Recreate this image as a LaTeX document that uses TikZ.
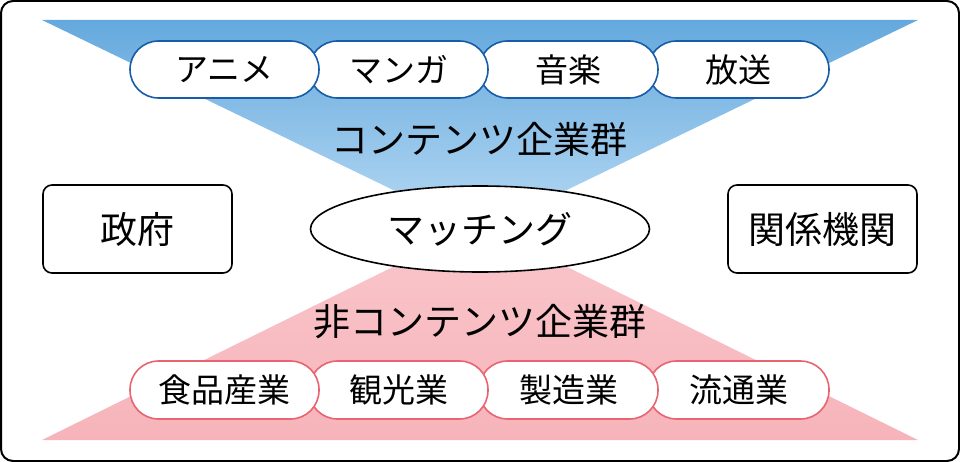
\documentclass[tikz,border=0pt]{standalone}
\usepackage{fontspec}
\setmainfont{Noto Sans CJK JP}
\usetikzlibrary{shapes.geometric}
\definecolor{bluetop}{RGB}{100,169,221}
\definecolor{bluebot}{RGB}{184,218,244}
\definecolor{pinktop}{RGB}{249,199,204}
\definecolor{pinkbot}{RGB}{246,180,186}
\definecolor{blueline}{RGB}{22,92,168}
\definecolor{pinkline}{RGB}{232,100,112}
\tikzset{
  pillbase/.style={rounded corners=28.5pt, fill=white, line width=1.6pt},
  bluepill/.style={pillbase, draw=blueline},
  pinkpill/.style={pillbase, draw=pinkline},
  pilltext/.style={font=\fontsize{33}{33}\selectfont, inner sep=0pt},
  bigtext/.style={font=\fontsize{37}{37}\selectfont, inner sep=0pt},
  sidebox/.style={draw=black, line width=1.6pt, rounded corners=9pt, fill=white},
}
\begin{document}
\begin{tikzpicture}[x=1pt,y=-1pt]
\useasboundingbox (0,0) rectangle (960,462);
\draw[line width=2pt, rounded corners=12pt] (1,1) rectangle (959,461);
% triangles
\shade[top color=bluetop, bottom color=bluebot] (42,20) -- (918,20) -- (480,232) -- cycle;
\shade[top color=pinktop, bottom color=pinkbot] (42,440) -- (918,440) -- (480,224) -- cycle;
% top pills (drawn right to left so the left one is on top)
\draw[bluepill] (648,41) rectangle (829,98);
\draw[bluepill] (479,41) rectangle (658,98);
\draw[bluepill] (309,41) rectangle (488,98);
\draw[bluepill] (130,41) rectangle (319,98);
\node[pilltext] (p1) at (224.5,70) {アニメ};
\node[pilltext] (p2) at (398.5,70) {マンガ};
\node[pilltext] (p3) at (568.5,70) {音楽};
\node[pilltext] (p4) at (738.5,70) {放送};
% bottom pills
\draw[pinkpill] (648,361) rectangle (829,419);
\draw[pinkpill] (479,361) rectangle (658,419);
\draw[pinkpill] (309,361) rectangle (488,419);
\draw[pinkpill] (130,361) rectangle (319,419);
\node[pilltext] (q1) at (224.5,390) {食品産業};
\node[pilltext] (q2) at (398.5,390) {観光業};
\node[pilltext] (q3) at (568.5,390) {製造業};
\node[pilltext] (q4) at (738.5,390) {流通業};
% group labels
\node[bigtext] (cg) at (479,139) {コンテンツ企業群};
\node[bigtext] (ncg) at (480,322) {非コンテンツ企業群};
% side boxes
\draw[sidebox] (43,185) rectangle (232,273);
\node[bigtext] (gov) at (137.5,229) {政府};
\draw[sidebox] (728,185) rectangle (917,273);
\node[bigtext] (rel) at (822.5,229) {関係機関};
% matching ellipse
\draw[line width=1.6pt, fill=white] (480,229) ellipse (169.5pt and 43pt);
\node[bigtext] (m) at (480,229) {マッチング};
\end{tikzpicture}
\end{document}
